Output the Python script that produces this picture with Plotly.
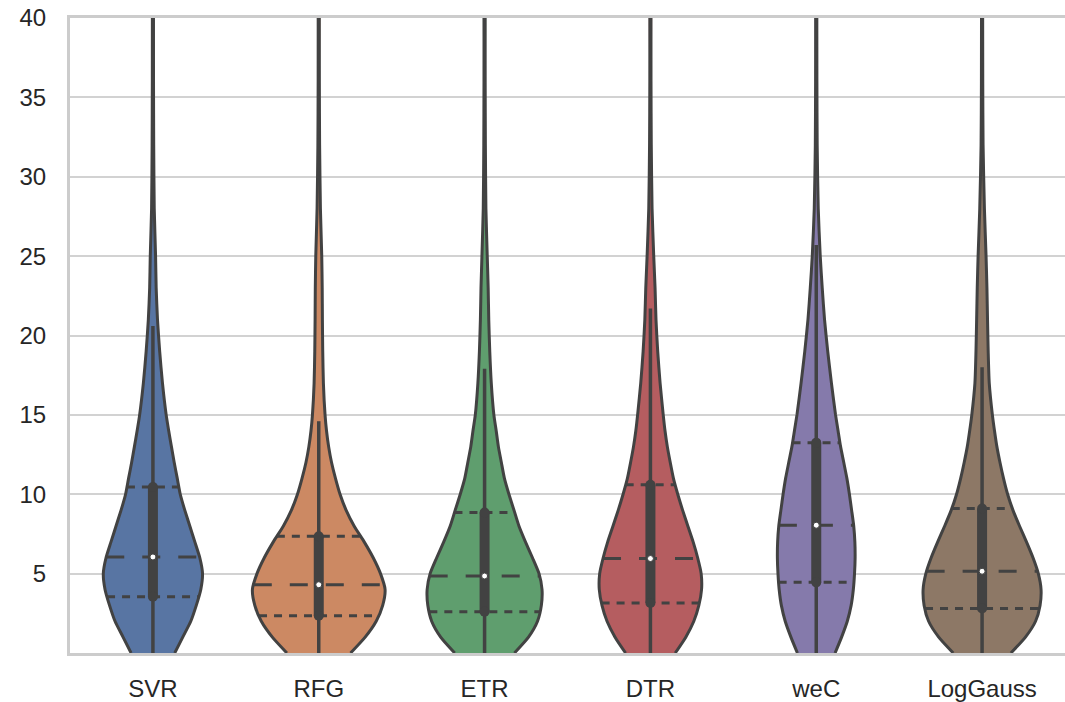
import numpy as np
import plotly.graph_objects as go

# ---------------- data ----------------
models = ["SVR", "RFG", "ETR", "DTR", "weC", "LogGauss"]

# value levels at which the violin density profile was read
grid_y = [0, 1, 2, 3, 4, 5, 6, 7, 8, 9, 10, 11, 12, 13, 14, 15,
          17, 19, 21, 23, 25, 28, 32, 36, 42]

# relative kernel density (1.0 = widest violin) at each level of grid_y
dens_svr = [0.329, 0.450, 0.571, 0.654, 0.722, 0.748, 0.707, 0.632, 0.556, 0.480,
            0.412, 0.367, 0.321, 0.279, 0.238, 0.200, 0.144, 0.102, 0.069, 0.049,
            0.040, 0.020, 0.012, 0.009, 0.008]
dens_rfg = [0.480, 0.700, 0.866, 0.964, 1.000, 0.931, 0.821, 0.685, 0.533, 0.412,
            0.321, 0.252, 0.193, 0.149, 0.117, 0.095, 0.070, 0.060, 0.055, 0.052,
            0.045, 0.025, 0.013, 0.009, 0.008]
dens_etr = [0.450, 0.662, 0.798, 0.856, 0.866, 0.821, 0.722, 0.616, 0.518, 0.443,
            0.367, 0.299, 0.253, 0.208, 0.175, 0.140, 0.101, 0.078, 0.063, 0.054,
            0.040, 0.020, 0.012, 0.009, 0.008]
dens_dtr = [0.374, 0.533, 0.654, 0.730, 0.771, 0.765, 0.712, 0.644, 0.564, 0.485,
            0.412, 0.347, 0.299, 0.255, 0.220, 0.193, 0.146, 0.110, 0.084, 0.070,
            0.050, 0.025, 0.013, 0.009, 0.008]
dens_wec = [0.284, 0.382, 0.468, 0.526, 0.559, 0.577, 0.586, 0.582, 0.565, 0.533,
            0.500, 0.462, 0.415, 0.367, 0.329, 0.291, 0.229, 0.173, 0.125, 0.090,
            0.060, 0.030, 0.014, 0.010, 0.008]
dens_loggauss = [0.435, 0.654, 0.806, 0.874, 0.889, 0.848, 0.768, 0.669, 0.564, 0.465,
                 0.385, 0.323, 0.270, 0.223, 0.187, 0.155, 0.108, 0.092, 0.082, 0.073,
                 0.060, 0.035, 0.015, 0.010, 0.008]

q1 = [3.55, 2.35, 2.60, 3.15, 4.45, 2.80]
median = [6.05, 4.30, 4.85, 5.95, 8.05, 5.15]
q3 = [10.45, 7.35, 8.85, 10.60, 13.25, 9.10]
whisker_low = [0, 0, 0, 0, 0, 0]
whisker_high = [20.6, 14.6, 17.9, 21.7, 25.7, 18.0]

y_ticks = [5, 10, 15, 20, 25, 30, 35, 40]

# ---------------- styling ----------------
densities = [dens_svr, dens_rfg, dens_etr, dens_dtr, dens_wec, dens_loggauss]
colors = ["#5875A3", "#CC8963", "#5F9E6E", "#B55D60", "#857AAB", "#8D7866"]
GRAY = "#424242"
MAX_HALF = 0.4
FONT = "Liberation Sans, Arial, sans-serif"

fig = go.Figure()
gy = np.array(grid_y, dtype=float)

for i, name in enumerate(models):
    d = np.array(densities[i], dtype=float)
    right = i + MAX_HALF * d
    left = i - MAX_HALF * d
    # body fill
    xs = np.concatenate([right, left[::-1]])
    ys = np.concatenate([gy, gy[::-1]])
    fig.add_trace(go.Scatter(
        x=xs, y=ys, mode="lines", fill="toself", fillcolor=colors[i],
        line=dict(color=colors[i], width=0.5, shape="spline", smoothing=0.6),
        hoverinfo="skip", showlegend=False))
    # outline, each side as an open smooth curve
    for side in (right, left):
        fig.add_trace(go.Scatter(
            x=side, y=gy, mode="lines",
            line=dict(color=GRAY, width=3, shape="spline", smoothing=0.6),
            hoverinfo="skip", showlegend=False))

    # quartile lines (dashed, drawn to the density)
    for val, dash in ((q1[i], "8px,7px"), (q3[i], "8px,7px"), (median[i], "18px,18px")):
        w = MAX_HALF * np.interp(val, gy, d)
        fig.add_trace(go.Scatter(
            x=[i - w, i + w], y=[val, val], mode="lines",
            line=dict(color=GRAY, width=3, dash=dash),
            hoverinfo="skip", showlegend=False))

    # whisker
    fig.add_trace(go.Scatter(
        x=[i, i], y=[whisker_low[i], whisker_high[i]], mode="lines",
        line=dict(color=GRAY, width=3.5), hoverinfo="skip", showlegend=False))
    # box
    fig.add_trace(go.Scatter(
        x=[i, i], y=[q1[i], q3[i]], mode="lines+markers",
        line=dict(color=GRAY, width=10),
        marker=dict(color=GRAY, size=10, symbol="circle"),
        hoverinfo="skip", showlegend=False))
    # median dot
    fig.add_trace(go.Scatter(
        x=[i], y=[median[i]], mode="markers",
        marker=dict(color="white", size=6, line=dict(color=GRAY, width=1)),
        hoverinfo="skip", showlegend=False))

fig.update_layout(
    width=1065, height=702,
    margin=dict(l=70, r=0, t=18, b=49),
    plot_bgcolor="white", paper_bgcolor="white",
    showlegend=False,
    font=dict(family=FONT, size=24, color="#262626"),
)
fig.update_xaxes(
    range=[-0.5, 5.5], tickvals=list(range(len(models))), ticktext=models,
    showgrid=False, zeroline=False,
    showline=True, mirror=True, linecolor="#cccccc", linewidth=3,
    ticks="", ticklabelstandoff=12,
    tickfont=dict(family=FONT, size=24, color="#262626"),
)
fig.update_yaxes(
    range=[0, 40], tickvals=y_ticks,
    showgrid=True, gridcolor="#d2d2d2", gridwidth=2, zeroline=False,
    showline=True, mirror=False, linecolor="#cccccc", linewidth=3,
    ticks="", ticklabelstandoff=16,
    tickfont=dict(family=FONT, size=24, color="#262626"),
)

# remove the browser's default page margin so the figure fills the window exactly
fig.write_html("out.html",
               config={"displayModeBar": False},
               post_script="document.body.style.margin='0';document.body.style.overflow='hidden';")
